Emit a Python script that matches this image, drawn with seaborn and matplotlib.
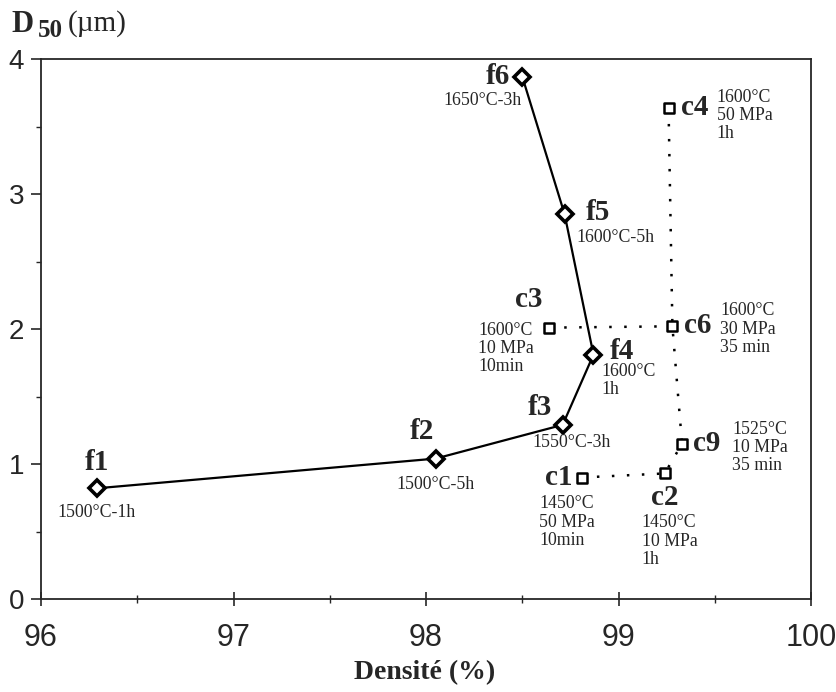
import matplotlib
matplotlib.use('Agg')
import matplotlib.pyplot as plt
import seaborn as sns
import pandas as pd
from matplotlib.ticker import MultipleLocator

# Données : frittage naturel (f) et frittage sous charge (c)
f_noms = ['f1', 'f2', 'f3', 'f4', 'f5', 'f6']
f_densite = [96.29, 98.05, 98.71, 98.87, 98.72, 98.50]
f_d50 = [0.82, 1.04, 1.29, 1.81, 2.85, 3.87]
f_conditions = ['1500°C-1h', '1500°C-5h', '1550°C-3h', '1600°C\n1h',
                '1600°C-5h', '1650°C-3h']

c_noms = ['c1', 'c2', 'c3', 'c4', 'c6', 'c9']
c_densite = [98.81, 99.24, 98.64, 99.26, 99.28, 99.33]
c_d50 = [0.90, 0.93, 2.01, 3.64, 2.02, 1.15]
c_conditions = ['1450°C\n50 MPa\n10min', '1450°C\n10 MPa\n1h',
                '1600°C\n10 MPa\n10min', '1600°C\n50 MPa\n1h',
                '1600°C\n30 MPa\n35 min', '1525°C\n10 MPa\n35 min']

# chemins en pointillés entre les essais sous charge
chemins = [['c1', 'c2', 'c9', 'c6', 'c4'], ['c3', 'c6']]

# position des étiquettes (décalage en pixels, alignements)
pos_noms = {'f1': (0, 26, 'center'), 'f2': (-14, 27, 'center'),
            'f3': (-23, 17, 'center'), 'f4': (28, 3, 'center'),
            'f5': (33, 2, 'center'), 'f6': (-24, 0, 'center'),
            'c1': (-9, 0, 'right'), 'c2': (0, -24, 'center'),
            'c3': (-21, 28, 'center'), 'c4': (12, 0, 'left'),
            'c6': (12, 1, 'left'), 'c9': (11, 0, 'left')}
pos_cond = {'f1': (0, -24, 'center', 'center'), 'f2': (0, -26, 'center', 'center'),
            'f3': (9, -18, 'center', 'center'), 'f4': (8, -8, 'left', 'top'),
            'f5': (12, -23, 'left', 'center'), 'f6': (-1, -24, 'right', 'center'),
            'c1': (-43, -18, 'left', 'top'), 'c2': (-23, -41, 'left', 'top'),
            'c3': (-15, 6, 'right', 'top'), 'c4': (48, 19, 'left', 'top'),
            'c6': (48, 24, 'left', 'top'), 'c9': (50, 23, 'left', 'top')}

df_f = pd.DataFrame({'nom': f_noms, 'densite': f_densite, 'd50': f_d50,
                     'cond': f_conditions})
df_c = pd.DataFrame({'nom': c_noms, 'densite': c_densite, 'd50': c_d50,
                     'cond': c_conditions}).set_index('nom')

sns.set_style('ticks')
plt.rcParams['font.family'] = ['Liberation Serif', 'DejaVu Serif']

fig = plt.figure(figsize=(8.37, 6.92), dpi=100)
ax = fig.add_axes([41 / 837, 93 / 692, 770 / 837, 540 / 692])

# pointillés
for chemin in chemins:
    sous = df_c.loc[chemin]
    sns.lineplot(x=sous['densite'], y=sous['d50'], sort=False, color='k',
                 lw=1.8, linestyle=(0, (1, 5)), ax=ax, zorder=2)

# courbe f
sns.lineplot(data=df_f, x='densite', y='d50', sort=False, color='k', lw=1.6,
             marker='D', ms=8, mfc='white', mec='k', mew=2.6, ax=ax, zorder=3)

# carrés c
sns.scatterplot(data=df_c, x='densite', y='d50', marker='s', s=45,
                facecolor='white', edgecolor='k', linewidth=1.8, ax=ax, zorder=4)


def etiquettes(df):
    for nom, row in df.iterrows():
        dx, dy, ha = pos_noms[nom]
        ax.annotate(nom, (row['densite'], row['d50']),
                    xytext=(dx * 0.72, dy * 0.72), textcoords='offset points',
                    ha=ha, va='center', fontsize=21, fontweight='bold')
        dx, dy, ha, va = pos_cond[nom]
        ax.annotate(row['cond'], (row['densite'], row['d50']),
                    xytext=(dx * 0.72, dy * 0.72), textcoords='offset points',
                    ha=ha, va=va, multialignment='left', fontsize=12.8,
                    linespacing=1.1)


etiquettes(df_f.set_index('nom'))
etiquettes(df_c)

ax.set_xlim(96, 100)
ax.set_ylim(0, 4)
ax.xaxis.set_major_locator(MultipleLocator(1))
ax.xaxis.set_minor_locator(MultipleLocator(0.5))
ax.yaxis.set_major_locator(MultipleLocator(1))
ax.yaxis.set_minor_locator(MultipleLocator(0.5))
ax.tick_params(axis='x', which='major', direction='inout', length=10, width=1.2,
               pad=12, labelsize=22)
ax.tick_params(axis='x', which='minor', direction='inout', length=6, width=1.0)
ax.tick_params(axis='y', which='major', direction='out', length=7, width=1.2,
               pad=5, labelsize=20)
ax.tick_params(axis='y', which='minor', direction='out', length=3.5, width=1.0)
for lab in ax.get_xticklabels() + ax.get_yticklabels():
    lab.set_family('Liberation Sans')
for sp in ax.spines.values():
    sp.set_linewidth(1.3)
ax.set_xlabel('')
ax.set_ylabel('')

# titres des axes
fig.text(11 / 837, 1 - 32 / 692, 'D', fontsize=22, fontweight='bold', va='baseline')
fig.text(38 / 837, 1 - 37 / 692, '50', fontsize=18, fontweight='bold', va='baseline')
fig.text(68 / 837, 1 - 31 / 692, '(µm)', fontsize=21, va='baseline')
fig.text(425 / 837, 1 - 679 / 692, 'Densité (%)', fontsize=20, fontweight='bold',
         ha='center', va='baseline')

fig.savefig('out.png', dpi=100)
